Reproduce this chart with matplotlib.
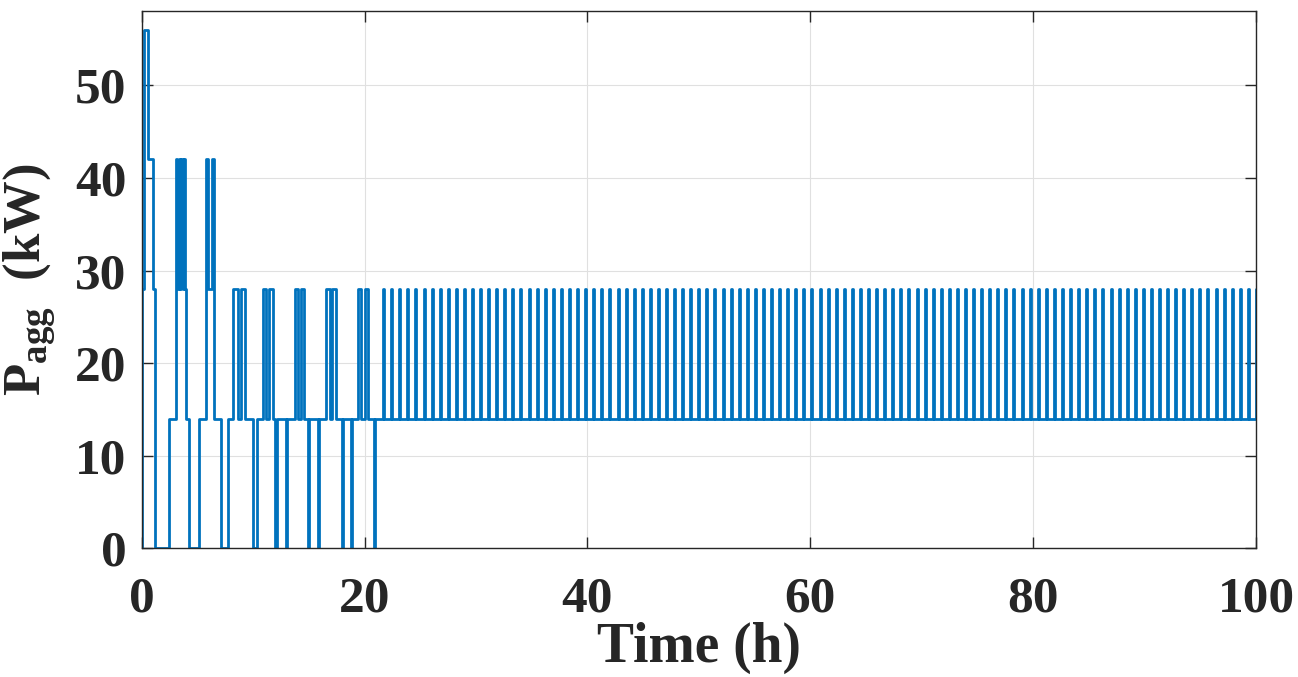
import matplotlib
matplotlib.use("Agg")
import matplotlib.pyplot as plt
import numpy as np

# ---------------- data ----------------
# early irregular part: change times (h) and the level (kW) held from that time on
early_t = [0.0, 0.02, 0.2, 0.6, 1.0, 1.17, 2.45,
           3.05, 3.2, 3.3, 3.45, 3.55, 3.7, 3.75, 3.9, 3.95,
           4.2, 5.1, 5.75, 5.8, 5.98, 6.28, 6.45, 6.49,
           7.1, 7.7, 8.2, 8.6, 8.9, 9.25,
           10.0, 10.3, 10.89, 11.13, 11.43, 11.79,
           12.0, 12.1, 12.93, 13.03, 13.72, 14.02, 14.27, 14.57,
           14.88, 14.98, 15.82, 15.92, 16.55, 16.9, 17.12, 17.4,
           17.94, 18.04, 18.75, 18.85, 19.45, 19.66, 20.05, 20.33,
           20.85, 20.95]
early_p = [0, 28, 56, 42, 28, 0, 14,
           42, 28, 42, 28, 42, 28, 42, 28, 14,
           0, 14, 28, 42, 28, 42, 28, 14,
           0, 14, 28, 14, 28, 14,
           0, 14, 28, 14, 28, 14,
           0, 14, 0, 14, 28, 14, 28, 14,
           0, 14, 0, 14, 28, 14, 28, 14,
           0, 14, 0, 14, 28, 14, 28, 14,
           0, 14]

# regular part: start times (h) of the short 28 kW pulses on a 14 kW base
pulse_starts = [21.66, 22.39, 23.11, 23.84, 24.56, 25.29, 26.01, 26.74, 27.46, 28.19,
                28.91, 29.64, 30.36, 31.09, 31.82, 32.54, 33.27, 33.99, 34.72, 35.44,
                36.17, 36.89, 37.62, 38.34, 39.07, 39.80, 40.52, 41.25, 41.97, 42.70,
                43.42, 44.15, 44.87, 45.60, 46.32, 47.05, 47.77, 48.50, 49.23, 49.95,
                50.68, 51.40, 52.13, 52.85, 53.58, 54.30, 55.03, 55.75, 56.48, 57.20,
                57.93, 58.66, 59.38, 60.11, 60.83, 61.56, 62.28, 63.01, 63.73, 64.46,
                65.18, 65.91, 66.63, 67.36, 68.09, 68.81, 69.54, 70.26, 70.99, 71.71,
                72.44, 73.16, 73.89, 74.61, 75.34, 76.07, 76.79, 77.52, 78.24, 78.97,
                79.69, 80.42, 81.14, 81.87, 82.59, 83.32, 84.04, 84.77, 85.50, 86.22,
                86.95, 87.67, 88.40, 89.12, 89.85, 90.57, 91.30, 92.02, 92.75, 93.47,
                94.20, 94.93, 95.65, 96.38, 97.10, 97.83, 98.55, 99.28, 100.00]
pulse_level = 28
base_level = 14
pulse_width = 0.09

x_ticks = [0, 20, 40, 60, 80, 100]
y_ticks = [0, 10, 20, 30, 40, 50]

# ---------------- build step signal ----------------
t = list(early_t)
p = list(early_p)
for s in pulse_starts:
    t += [s, s + pulse_width]
    p += [pulse_level, base_level]
t = np.array(t)
p = np.array(p)

# ---------------- figure ----------------
plt.rcParams['font.family'] = ['Liberation Serif', 'DejaVu Serif']
plt.rcParams['font.weight'] = 'bold'
plt.rcParams['mathtext.fontset'] = 'custom'
plt.rcParams['mathtext.rm'] = 'Liberation Serif:bold'
plt.rcParams['mathtext.bf'] = 'Liberation Serif:bold'
plt.rcParams['mathtext.it'] = 'Liberation Serif:bold'

fig = plt.figure(figsize=(12.98, 6.77), dpi=100)
ax = fig.add_axes([0.1092, 0.19, 0.8584, 0.794])

ax.plot(t, p, drawstyle='steps-post', color='#0072BD', lw=2.0)

ax.set_xlim(0, 100)
ax.set_ylim(0, 58.05)
ax.set_xticks(x_ticks)
ax.set_yticks(y_ticks)
ax.set_xticklabels([str(v) for v in x_ticks])
ax.set_yticklabels([str(v) for v in y_ticks])

ax.grid(True, color='#e0e0e0', lw=0.8)
ax.set_axisbelow(True)

ax.tick_params(axis='both', direction='in', length=8, width=1, labelsize=37,
               top=True, right=True, colors='#262626')
ax.tick_params(axis='x', pad=20)
ax.tick_params(axis='y', pad=11)
for lab in ax.get_xticklabels() + ax.get_yticklabels():
    lab.set_fontweight('bold')
    lab.set_color('#262626')
for sp in ax.spines.values():
    sp.set_color('#262626')
    sp.set_linewidth(1.0)

ax.set_xlabel('Time (h)', fontsize=40, fontweight='bold', color='#262626', labelpad=0)
ax.set_ylabel(r'$\mathrm{P_{agg}}$  (kW)', fontsize=38, fontweight='bold', color='#262626',
              labelpad=12)

fig.savefig('out.png', dpi=100)
